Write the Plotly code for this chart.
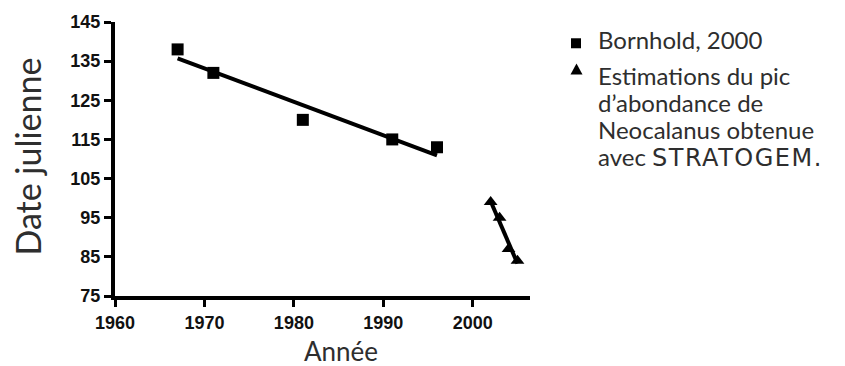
import numpy as np
import plotly.graph_objects as go

# Bornhold (2000) observations: year vs julian day of peak abundance
bornhold_years = [1967, 1971, 1981, 1991, 1996]
bornhold_days = [138, 132, 120, 115, 113]

# STRATOGEM estimates of the Neocalanus abundance peak
stratogem_years = [2002, 2003, 2004, 2005]
stratogem_days = [99, 95, 87, 84]

x_ticks = [1960, 1970, 1980, 1990, 2000]
y_ticks = [75, 85, 95, 105, 115, 125, 135, 145]

x_title = "Année"
y_title = "Date julienne"
legend_item_1 = ["Bornhold, 2000"]
legend_item_2 = ["Estimations du pic", "d’abondance de", "Neocalanus obtenue",
                 "avec <span style='font-family:DejaVu Sans;letter-spacing:1.5px'>STRATOGEM.</span>"]

W, H = 845, 366
L, R, T, B = 115, 315, 19, 70


def px_x(px):
    return (px - L) / (W - L - R)


def px_y(py):
    return (H - B - py) / (H - T - B)


def linear_fit(xs, ys):
    slope, intercept = np.polyfit(xs, ys, 1)
    xf = np.array([min(xs), max(xs)], dtype=float)
    return xf, slope * xf + intercept


fig = go.Figure()

# regression line through each series
for xs, ys in [(bornhold_years, bornhold_days), (stratogem_years, stratogem_days)]:
    xf, yf = linear_fit(xs, ys)
    fig.add_trace(go.Scatter(x=xf, y=yf, mode="lines",
                             line=dict(color="black", width=4),
                             showlegend=False, hoverinfo="skip"))

fig.add_trace(go.Scatter(x=bornhold_years, y=bornhold_days, mode="markers",
                         marker=dict(symbol="square", size=12, color="black"),
                         name="Bornhold, 2000", showlegend=False))
fig.add_trace(go.Scatter(x=stratogem_years, y=stratogem_days, mode="markers",
                         marker=dict(symbol="triangle-up", size=12, color="black"),
                         name="STRATOGEM", showlegend=False))

axis_common = dict(
    showline=True, linewidth=4, linecolor="black",
    ticks="outside", ticklen=7, tickwidth=3, tickcolor="black",
    showgrid=False, zeroline=False,
    tickfont=dict(family="Liberation Sans", size=18, color="#111111", weight="bold"),
)

fig.update_xaxes(range=[1960, 2006.4], tickvals=x_ticks, **axis_common)
fig.update_yaxes(range=[75, 145], tickvals=y_ticks, **axis_common)

text_font = dict(family="Lato", color="#2e2e2e")
annotations = [
    dict(text=y_title, x=px_x(28), y=px_y(155), xref="paper", yref="paper",
         textangle=-90, showarrow=False, xanchor="center", yanchor="middle",
         font=dict(size=34, **text_font)),
    dict(text=x_title, x=px_x(341), y=px_y(352), xref="paper", yref="paper",
         showarrow=False, xanchor="center", yanchor="middle", borderpad=0,
         font=dict(size=26, **text_font)),
]

# custom legend: one annotation per text line for tight leading
legend_baselines_1 = [46]
legend_baselines_2 = [83, 110, 137, 165]
for lines, bases in [(legend_item_1, legend_baselines_1), (legend_item_2, legend_baselines_2)]:
    for line, base in zip(lines, bases):
        annotations.append(dict(text=line, x=px_x(597), y=px_y(base - 9.5),
                                xref="paper", yref="paper", showarrow=False,
                                xanchor="left", yanchor="middle", borderpad=0,
                                font=dict(size=24, **text_font)))

shapes = [
    dict(type="rect", xref="paper", yref="paper", xsizemode="pixel", ysizemode="pixel",
         xanchor=px_x(576), yanchor=px_y(40.5), x0=-5, x1=5, y0=-5, y1=5,
         fillcolor="black", line=dict(width=0)),
    dict(type="path", xref="paper", yref="paper", xsizemode="pixel", ysizemode="pixel",
         xanchor=px_x(576.5), yanchor=px_y(67),
         path="M -6,-5 L 6,-5 L 0,6 Z", fillcolor="black", line=dict(width=0)),
]

fig.update_layout(
    width=W, height=H,
    margin=dict(l=L, r=R, t=T, b=B),
    plot_bgcolor="white", paper_bgcolor="white",
    annotations=annotations, shapes=shapes,
    showlegend=False,
)

fig.write_html("out.html")
